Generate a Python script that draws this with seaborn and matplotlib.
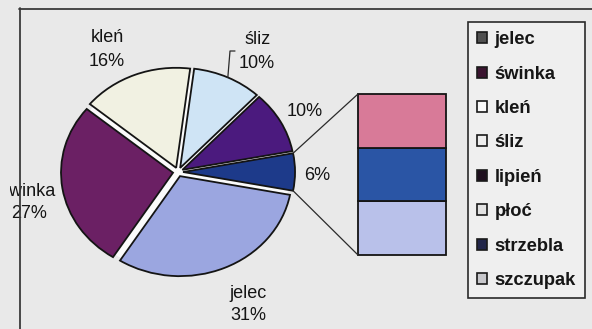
import matplotlib
matplotlib.use("Agg")
import matplotlib.pyplot as plt
import seaborn as sns
import numpy as np
from matplotlib.patches import Patch, ConnectionPatch, Ellipse
from matplotlib.lines import Line2D
from matplotlib.transforms import Bbox, TransformedBbox

# Fish species share in the catch (percent)
pie_names = ["jelec", "świnka", "kleń", "śliz", "lipień"]
pie_values = [31, 27, 16, 10, 10]
bar_names = ["płoć", "strzebla", "szczupak"]
bar_values = [2, 2, 2]
legend_names = pie_names + bar_names

sns.set_theme(style="white")
plt.rcParams["font.family"] = ["Liberation Sans", "DejaVu Sans"]

W, H = 592, 329
bg = "#e9e9e9"
fig = plt.figure(figsize=(W / 100, H / 100), dpi=100, facecolor=bg)

# pie geometry (pixels): centre and horizontal / vertical radius
CX, CY, RX, RY = 178, 172, 112, 100


def P(px, py):
    """pixel position -> pie axes data coordinates"""
    return (px - CX) / RX, (CY - py) / RY


ax = fig.add_axes([0, 0, 1, 1])
ax.set_facecolor(bg)

pie_colors = {"jelec": "#9ba6e0", "świnka": "#6b2064", "kleń": "#f1f1e2",
              "śliz": "#cfe4f5", "lipień": "#4b1a7e"}
other_color = "#1d3a8a"

# counter-clockwise from the grouped slice, which is centred at 0 degrees
order = ["other", "lipień", "śliz", "kleń", "świnka", "jelec"]
vals = {n: v for n, v in zip(pie_names, pie_values)}
vals["other"] = sum(bar_values)
sizes = [vals[n] for n in order]
cols = [other_color if n == "other" else pie_colors[n] for n in order]
start = -sum(bar_values) / sum(sizes) * 360 / 2

# white disc showing through the gaps between exploded slices
ax.add_patch(Ellipse((0, 0), 2.0, 2.0, facecolor="#fbfbfb",
                     edgecolor="none", zorder=0))

wedges, _ = ax.pie(sizes, colors=cols, startangle=start, counterclock=True,
                   explode=[0.045] * len(sizes), radius=1, center=(0, 0),
                   wedgeprops=dict(edgecolor="#141414", linewidth=1.3))
ax.set_aspect("auto")
ax.set_xlim(P(0, 0)[0], P(W, 0)[0])
ax.set_ylim(P(0, H)[1], P(0, 0)[1])
ax.axis("off")

wd = {n: w for n, w in zip(order, wedges)}

fs = 13
tkw = dict(ha="center", va="center", fontsize=fs, color="#141414")

# slice labels: name above, percentage below
ax.text(*P(107, 37), "kleń", **tkw)
ax.text(*P(107, 61), f"{vals['kleń']}%", **tkw)
ax.text(*P(258, 40), "śliz", **tkw)
ax.text(*P(257, 63), f"{vals['śliz']}%", **tkw)
ax.text(*P(305, 111), f"{vals['lipień']}%", **tkw)
ax.text(*P(317, 175), f"{vals['other']}%", **tkw)
ax.text(*P(248, 293), "jelec", **tkw)
ax.text(*P(248, 315), f"{vals['jelec']}%", **tkw)
t1 = ax.text(*P(28.5, 192), "świnka", **tkw)
t2 = ax.text(*P(29, 213), f"{vals['świnka']}%", **tkw)
clip = TransformedBbox(Bbox([[P(10, 0)[0], -5], [5, 5]]), ax.transData)
for t in (t1, t2):
    t.set_clip_box(clip)
    t.set_clip_on(True)

# leader line for the śliz label
w = wd["śliz"]
mid = np.deg2rad((w.theta1 + w.theta2) / 2)
sx, sy = w.center[0] + np.cos(mid), w.center[1] + np.sin(mid)
ex, ey = P(230, 51)
fx, fy = P(235, 51)
ax.plot([sx, ex, fx], [sy, ey, fy], color="#2a2a2a", lw=0.9)

# stacked bar for the grouped slice
bx0, by0, bx1, by1 = 358, 94, 446, 255
bax = fig.add_axes([bx0 / W, 1 - by1 / H, (bx1 - bx0) / W, (by1 - by0) / H])
bar_colors = {"płoć": "#d87a98", "strzebla": "#2a55a5", "szczupak": "#b9c1ea"}
bottom = 0
for n, v in zip(bar_names[::-1], bar_values[::-1]):
    bars = bax.bar(0.5, v, width=1, bottom=bottom, color=bar_colors[n],
                   edgecolor="#141414", linewidth=1.3)
    for b in bars:
        b.set_clip_on(False)
    bottom += v
bax.set_xlim(0, 1)
bax.set_ylim(0, bottom)
bax.axis("off")

# connectors from the grouped slice to the bar
w = wd["other"]
for ang, yb in ((w.theta2, bottom), (w.theta1, 0)):
    a = np.deg2rad(ang)
    xy = (w.center[0] + np.cos(a), w.center[1] + np.sin(a))
    con = ConnectionPatch(xyA=xy, coordsA=ax.transData, xyB=(0, yb),
                          coordsB=bax.transData, color="#2a2a2a", lw=0.9)
    fig.add_artist(con)

# legend
leg_colors = ["#505050", "#3b1530", "#fafafa", "#eeeeee",
              "#1e0f1e", "#e2e2e2", "#22264a", "#c8c8cc"]
handles = [Patch(facecolor=c, edgecolor="#1a1a1a", linewidth=1.2)
           for c in leg_colors]
leg = fig.legend(handles, legend_names, loc="upper left",
                 bbox_to_anchor=(468 / W, 1 - 22 / H), frameon=True,
                 fancybox=False, edgecolor="#2a2a2a", facecolor="#efefef",
                 framealpha=1, prop=dict(size=13.2, weight="bold"),
                 handlelength=0.55, handleheight=0.55, handletextpad=0.4,
                 labelspacing=0.95, borderpad=0.5, borderaxespad=0)
leg.get_frame().set_linewidth(1.2)
for t in leg.get_texts():
    t.set_color("#161616")

# outer frame: top and left edges
fig.add_artist(Line2D([19 / W, 1], [1 - 8.5 / H, 1 - 8.5 / H],
                      transform=fig.transFigure, color="#3a3a3a", lw=1.3))
fig.add_artist(Line2D([20 / W, 20 / W], [1 - 8 / H, 0],
                      transform=fig.transFigure, color="#3a3a3a", lw=1.3))

fig.savefig("out.png", dpi=100, facecolor=bg)
